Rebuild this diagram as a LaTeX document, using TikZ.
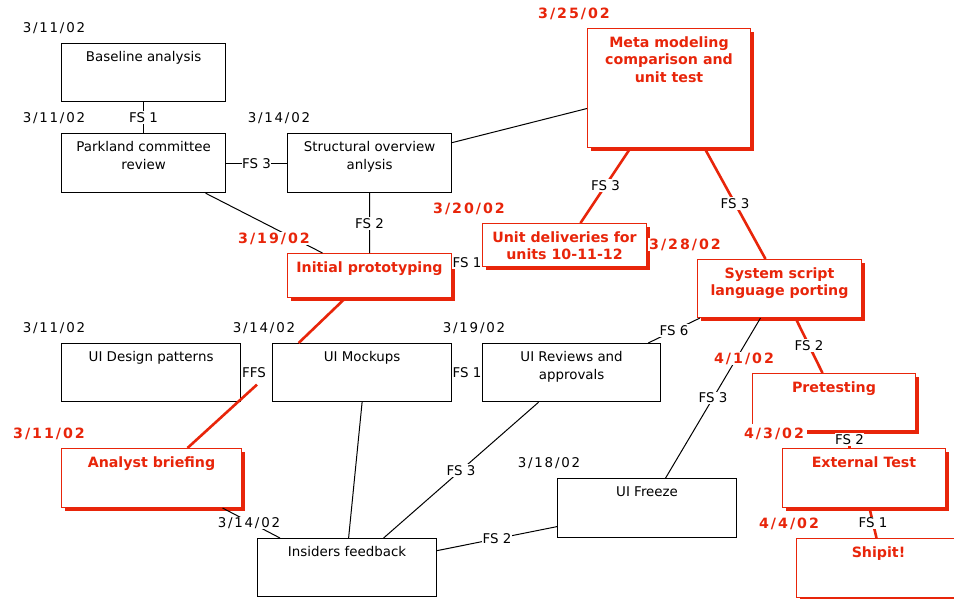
\documentclass[tikz,border=0pt]{standalone}
\usepackage{fontspec}
\setmainfont{DejaVu Sans}
\usetikzlibrary{shadows,calc}
\definecolor{mred}{HTML}{E8250A}
\begin{document}
\begin{tikzpicture}[x=1pt,y=-1pt,
  box/.style={draw=black, line width=1.2pt, fill=white, inner sep=0pt, anchor=north west},
  rbox/.style={draw=mred, line width=1pt, fill=white, inner sep=0pt, anchor=north west,
    drop shadow={shadow xshift=3pt, shadow yshift=-3pt, fill=mred, opacity=1}},
  btxt/.style={anchor=north, inner sep=0pt, align=center, font=\fontsize{13.4}{18}\selectfont},
  rtxt/.style={anchor=north, inner sep=0pt, align=center, text=mred, font=\fontsize{14.2}{17.5}\selectfont\bfseries},
  bline/.style={draw=black, line width=1pt},
  rline/.style={draw=mred, line width=2.6pt},
  lbl/.style={fill=white, inner xsep=0.5pt, inner ysep=1.5pt, text height=9.8pt, text depth=0pt, text=black, font=\fontsize{13.4}{16}\selectfont},
  bdate/.style={fill=white, inner xsep=1pt, inner ysep=1.5pt, text height=9.8pt, text depth=0pt, font=\fontsize{13.4}{16}\selectfont\addfontfeatures{LetterSpace=13}},
  rdate/.style={fill=white, inner xsep=1pt, inner ysep=1.5pt, text height=10pt, text depth=0pt, text=mred, font=\fontsize{14.2}{16}\selectfont\bfseries\addfontfeatures{LetterSpace=14}}
]
\useasboundingbox[fill=white] (0,0) rectangle (954,598);

% boxes
\node[box,minimum width=164pt,minimum height=58pt] (ba) at (61,43) {};
\node[box,minimum width=164pt,minimum height=59pt] (pc) at (61,133) {};
\node[box,minimum width=164pt,minimum height=59pt] (so) at (287,133) {};
\node[rbox,minimum width=163pt,minimum height=119pt] (mm) at (587,28) {};
\node[rbox,minimum width=164pt,minimum height=44pt] (ip) at (287,253) {};
\node[rbox,minimum width=164pt,minimum height=43pt] (ud) at (482,223) {};
\node[rbox,minimum width=164pt,minimum height=58pt] (ss) at (697,259) {};
\node[box,minimum width=179pt,minimum height=58pt] (dp) at (61,343) {};
\node[box,minimum width=179pt,minimum height=58pt] (mk) at (272,343) {};
\node[box,minimum width=178pt,minimum height=58pt] (rv) at (482,343) {};
\node[rbox,minimum width=163pt,minimum height=57pt] (pt) at (752,373) {};
\node[rbox,minimum width=163pt,minimum height=59pt] (et) at (782,448) {};
\node[rbox,minimum width=164pt,minimum height=59pt] (sh) at (796,538) {};
\node[rbox,minimum width=180pt,minimum height=59pt] (ab) at (61,448) {};
\node[box,minimum width=179pt,minimum height=58pt] (if) at (257,538) {};
\node[box,minimum width=179pt,minimum height=59pt] (uf) at (557,478) {};

% box texts
\node[btxt] (bat) at ([yshift=-8.5pt]ba.north) {Baseline analysis};
\node[btxt] (pct) at ([yshift=-8.5pt]pc.north) {Parkland committee\\review};
\node[btxt] (sot) at ([yshift=-8.5pt]so.north) {Structural overview\\anlysis};
\node[rtxt] (mmt) at ([yshift=-8.5pt]mm.north) {Meta modeling\\comparison and\\unit test};
\node[rtxt] (ipt) at ([yshift=-8.5pt]ip.north) {Initial prototyping};
\node[rtxt] (udt) at ([yshift=-8.5pt]ud.north) {Unit deliveries for\\units 10-11-12};
\node[rtxt] (sst) at ([yshift=-8.5pt]ss.north) {System script\\language porting};
\node[btxt] (dpt) at ([yshift=-8.5pt]dp.north) {UI Design patterns};
\node[btxt] (mkt) at ([yshift=-8.5pt]mk.north) {UI Mockups};
\node[btxt] (rvt) at ([yshift=-8.5pt]rv.north) {UI Reviews and\\approvals};
\node[rtxt] (ptt) at ([yshift=-8.5pt]pt.north) {Pretesting};
\node[rtxt] (ett) at ([yshift=-8.5pt]et.north) {External Test};
\node[rtxt] (sht) at ([yshift=-8.5pt]sh.north) {Shipit!};
\node[rtxt] (abt) at ([yshift=-8.5pt]ab.north) {Analyst briefing};
\node[btxt] (ift) at ([yshift=-8.5pt]if.north) {Insiders feedback};
\node[btxt] (uft) at ([yshift=-8.5pt]uf.north) {UI Freeze};

% black connectors
\draw[bline] (ba.south) -- (pc.north) node[lbl,midway] (l1) {FS 1};
\draw[bline] (pc.east) -- (so.west) node[lbl,midway] (l2) {FS 3};
\draw[bline] ([yshift=20.5pt]so.east) -- ([yshift=-20.5pt]mm.west);
\draw[bline] ([xshift=62pt]pc.south) -- ([xshift=-47pt]ip.north);
\draw[bline] (so.south) -- (ip.north) node[lbl,midway] (l3) {FS 2};
\draw[bline] ([yshift=13pt]ip.east) -- ([yshift=-17.5pt]ud.west) node[lbl,midway] (l4) {FS 1};
\draw[bline] (mk.east) -- (rv.west) node[lbl,midway] (l5) {FS 1};
\draw[bline] ([xshift=3pt]ss.south west) -- ([xshift=-13pt]rv.north east) node[lbl,midway] (l6) {FS 6};
\draw[bline] ([xshift=-19pt]ss.south) -- ([xshift=18.5pt]uf.north) node[lbl,midway] (l7) {FS 3};
\draw[bline] (mk.south) -- ([xshift=1.5pt]if.north);
\draw[bline] ([xshift=-33pt]rv.south) -- ([xshift=36.5pt]if.north) node[lbl,midway] (l8) {FS 3};
\draw[bline] ([yshift=-18.5pt]uf.west) -- ([yshift=17pt]if.east) node[lbl,midway] (l9) {FS 2};
\draw[bline] ([xshift=71pt]ab.south) -- ([xshift=23pt]if.north west);

% red connectors
\draw[rline] ([xshift=-38.5pt]mm.south) -- ([xshift=16pt]ud.north) node[lbl,midway] (l10) {FS 3};
\draw[rline] ([xshift=35.5pt]mm.south) -- ([xshift=-14pt]ss.north) node[lbl,midway] (l11) {FS 3};
\draw[rline] ([xshift=-24pt]ip.south) -- ([xshift=-63.5pt]mk.north);
\draw[rline] ([xshift=16pt]ss.south) -- ([xshift=-11.5pt]pt.north) node[lbl,midway] (l12) {FS 2};
\draw[rline] ([xshift=15.5pt]pt.south) -- ([xshift=-14.5pt]et.north) node[lbl,midway] (l13) {FS 2};
\draw[rline] ([xshift=5.5pt]et.south) -- ([xshift=-2pt]sh.north) node[lbl,midway] (l14) {FS 1};
\node[lbl] (ffs) at (254,373) {FFS};
\coordinate (ffsend) at ([xshift=3pt,yshift=-5pt]ffs.south);
\draw[rline] ([xshift=36pt]ab.north) -- (ffsend);

% dates
\node[bdate] (d1) at (54,28) {3/11/02};
\node[bdate] (d2) at (54,118) {3/11/02};
\node[bdate] (d3) at (279,118) {3/14/02};
\node[bdate] (d4) at (54,328) {3/11/02};
\node[bdate] (d5) at (264,328) {3/14/02};
\node[bdate] (d6) at (474,328) {3/19/02};
\node[bdate] (d7) at (549,463) {3/18/02};
\node[bdate] (d8) at (249,523) {3/14/02};
\node[rdate] (r1) at (574,13) {3/25/02};
\node[rdate] (r2) at (469,208) {3/20/02};
\node[rdate] (r3) at (274,238) {3/19/02};
\node[rdate] (r4) at (685,244) {3/28/02};
\node[rdate] (r5) at (744,358) {4/1/02};
\node[rdate] (r6) at (49,433) {3/11/02};
\node[rdate,inner xsep=3pt,inner ysep=4.5pt] (r7) at (774,433) {4/3/02};
\node[rdate] (r8) at (789,523) {4/4/02};
\end{tikzpicture}
\end{document}
